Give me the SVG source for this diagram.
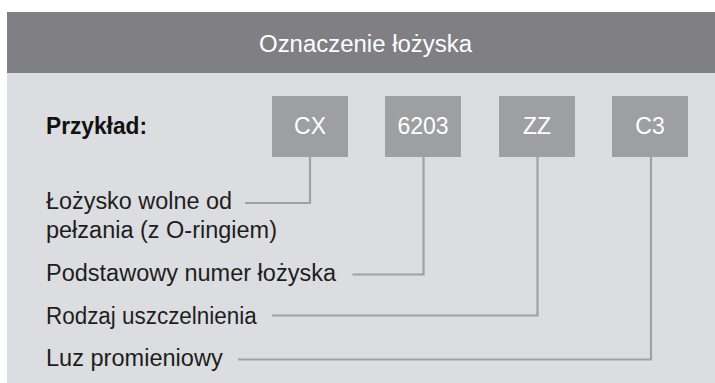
<svg xmlns="http://www.w3.org/2000/svg" width="715" height="383" viewBox="0 0 715 383">
<style>
.lbl{font-family:"Liberation Sans",Arial,sans-serif;font-size:23px;fill:#1e1e1e}
.box{fill:#9e9fa3}
.bt{font-family:"Liberation Sans",Arial,sans-serif;font-size:23px;fill:#ffffff;text-anchor:middle}
.ln{fill:none;stroke:#a0a1a4;stroke-width:2.2}
</style>
<rect x="0" y="0" width="715" height="383" fill="#ffffff"/>
<g id="panel">
<rect x="7" y="12" width="708" height="371" fill="#dcdde0"/>
<rect x="7" y="12" width="708" height="61" fill="#808084"/>
<text x="259" y="52" font-family="Liberation Sans,Arial,sans-serif" font-size="23.5" fill="#ffffff" textLength="213" lengthAdjust="spacingAndGlyphs">Oznaczenie łożyska</text>
<text x="46" y="133.5" font-family="Liberation Sans,Arial,sans-serif" font-size="23.5" font-weight="bold" fill="#111111" textLength="101" lengthAdjust="spacingAndGlyphs">Przykład:</text>
</g>
<g id="node-cx"><rect class="box" x="272" y="96" width="76" height="61"/><text class="bt" x="310" y="134">CX</text></g>
<g id="node-6203"><rect class="box" x="385" y="96" width="76" height="61"/><text class="bt" x="423" y="134">6203</text></g>
<g id="node-zz"><rect class="box" x="499" y="96" width="76" height="61"/><text class="bt" x="537" y="134">ZZ</text></g>
<g id="node-c3"><rect class="box" x="612" y="96" width="76" height="61"/><text class="bt" x="650" y="134">C3</text></g>
<g id="label-cx"><text class="lbl" x="46" y="209" textLength="186" lengthAdjust="spacingAndGlyphs">Łożysko wolne od</text><text class="lbl" x="46" y="238" textLength="231" lengthAdjust="spacingAndGlyphs">pełzania (z O-ringiem)</text></g>
<g id="label-6203"><text class="lbl" x="46" y="281" textLength="290" lengthAdjust="spacingAndGlyphs">Podstawowy numer łożyska</text></g>
<g id="label-zz"><text class="lbl" x="46" y="323.5" textLength="210.7" lengthAdjust="spacingAndGlyphs">Rodzaj uszczelnienia</text></g>
<g id="label-c3"><text class="lbl" x="46" y="366" textLength="176.7" lengthAdjust="spacingAndGlyphs">Luz promieniowy</text></g>
<g id="connectors">
<polyline class="ln" points="310,157 310,203 245,203"/>
<polyline class="ln" points="423.5,157 423.5,274.5 352.5,274.5"/>
<polyline class="ln" points="537.5,157 537.5,315.5 272,315.5"/>
<polyline class="ln" points="651,157 651,359.5 238,359.5"/>
</g>
</svg>
